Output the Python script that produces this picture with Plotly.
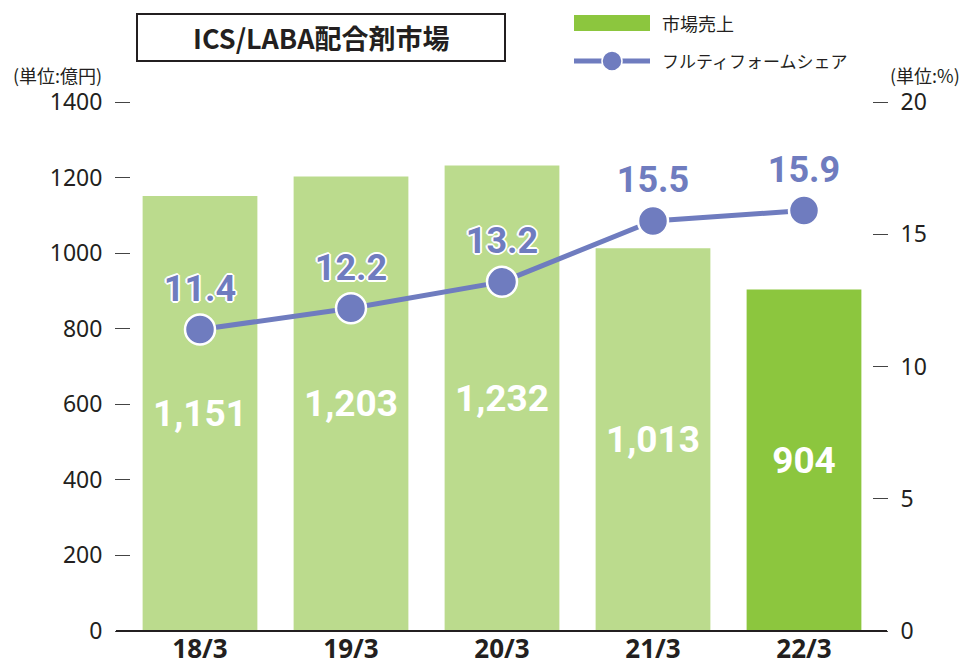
import plotly.graph_objects as go

categories = ["18/3", "19/3", "20/3", "21/3", "22/3"]
market_sales = [1151, 1203, 1232, 1013, 904]
share_pct = [11.4, 12.2, 13.2, 15.5, 15.9]
left_ticks = [0, 200, 400, 600, 800, 1000, 1200, 1400]
right_ticks = [0, 5, 10, 15, 20]

LIGHT_GREEN = "#bbdb8d"
GREEN = "#8cc63e"
PURPLE = "#6f7cbf"
TXT = "#231f20"

# page body has an 8px margin: build the figure in screen pixels shifted by OFF
OFF = 8
W, H = 968 - OFF, 669 - OFF
L, R, T, B = 131 - OFF, 872 - OFF, 102 - OFF, 631 - OFF
cat_c0, cat_step = 200.0 - OFF, 151.0
xr = [(L - cat_c0) / cat_step, (R - cat_c0) / cat_step]

xs = list(range(len(categories)))
bar_colors = [LIGHT_GREEN] * (len(categories) - 1) + [GREEN]

NUMFONT = "Roboto, Liberation Sans Narrow, sans-serif"
BASEFONT = "Noto Sans, Noto Sans CJK JP, sans-serif"
JPFONT = "Noto Sans CJK JP, Noto Sans, sans-serif"

fig = go.Figure()
fig.add_trace(go.Bar(
    x=xs, y=market_sales, width=0.76, marker=dict(color=bar_colors, line=dict(width=0)),
    text=[f"{v:,}" for v in market_sales], textposition="inside", insidetextanchor="middle",
    textfont=dict(family=NUMFONT, size=37, color="white", weight="bold"),
    textangle=0, constraintext="none", hoverinfo="skip", showlegend=False,
))
outline = ",".join(f"{dx}px {dy}px 0 white" for dx, dy in
                   [(2, 0), (-2, 0), (0, 2), (0, -2), (1, 1), (-1, -1), (1, -1), (-1, 1)])
fig.add_trace(go.Scatter(
    x=xs, y=share_pct, yaxis="y2", mode="lines+markers+text",
    line=dict(color=PURPLE, width=5),
    marker=dict(size=30, color=PURPLE, line=dict(color="white", width=2.5)),
    text=[f"{v:.1f}" for v in share_pct], textposition="top center",
    textfont=dict(family=NUMFONT, size=36, color=PURPLE, weight="bold", shadow=outline),
    hoverinfo="skip", showlegend=False, cliponaxis=False,
))

fig.update_layout(
    width=W, height=H, margin=dict(l=L, r=W - R, t=T, b=H - B, autoexpand=False),
    paper_bgcolor="white", plot_bgcolor="white", showlegend=False,
    xaxis=dict(range=xr, tickmode="array", tickvals=xs, ticktext=categories,
               showgrid=False, zeroline=False, showline=False, ticks="",
               tickfont=dict(family=BASEFONT, size=26, color=TXT, weight="bold")),
    yaxis=dict(range=[0, 1400], tickmode="array", tickvals=left_ticks,
               showgrid=False, zeroline=False, showline=False,
               ticks="outside", ticklen=15, tickwidth=1.3, tickcolor="#444",
               ticklabelstandoff=8,
               tickfont=dict(family=BASEFONT, size=23, color=TXT)),
    yaxis2=dict(range=[0, 20], overlaying="y", side="right", tickmode="array",
                tickvals=right_ticks, showgrid=False, zeroline=False, showline=False,
                ticks="outside", ticklen=15, tickwidth=1.3, tickcolor="#444",
                ticklabelstandoff=8,
                tickfont=dict(family=BASEFONT, size=23, color=TXT)),
)

pw = R - L
ph = B - T
def px(xpix):
    return (xpix - OFF - L) / pw
def py(ypix):
    return (B - (ypix - OFF)) / ph

shapes = [
    dict(type="line", xref="paper", yref="paper", x0=px(116), x1=px(887), y0=0, y1=0,
         line=dict(color=TXT, width=2)),
    dict(type="rect", xref="paper", yref="paper", x0=px(137), x1=px(505),
         y0=py(61), y1=py(14), line=dict(color=TXT, width=2)),
    dict(type="rect", xref="paper", yref="paper", x0=px(574), x1=px(650),
         y0=py(31), y1=py(15), line=dict(width=0), fillcolor=GREEN),
    dict(type="line", xref="paper", yref="paper", x0=px(574), x1=px(650),
         y0=py(61), y1=py(61), line=dict(color=PURPLE, width=5)),
    dict(type="circle", xref="paper", yref="paper", x0=px(602), x1=px(622),
         y0=py(71), y1=py(51), fillcolor=PURPLE, line=dict(color="white", width=1.5)),
]
fig.update_layout(shapes=shapes)

def ann(text, xpix, ypix, size, xanchor="left", weight="normal", family=JPFONT):
    fig.add_annotation(text=text, xref="paper", yref="paper", x=px(xpix), y=py(ypix),
                       xanchor=xanchor, yanchor="middle", showarrow=False,
                       font=dict(family=family, size=size, color=TXT, weight=weight))

ann("ICS/LABA配合剤市場", 321, 38, 27, xanchor="center", weight="bold")
ann("市場売上", 660, 23, 18)
ann("フルティフォームシェア", 660, 61, 17)
ann("(単位:億円)", 11, 75, 18)
ann("(単位:%)", 962, 75, 18, xanchor="right")

fig.write_html("out.html")
